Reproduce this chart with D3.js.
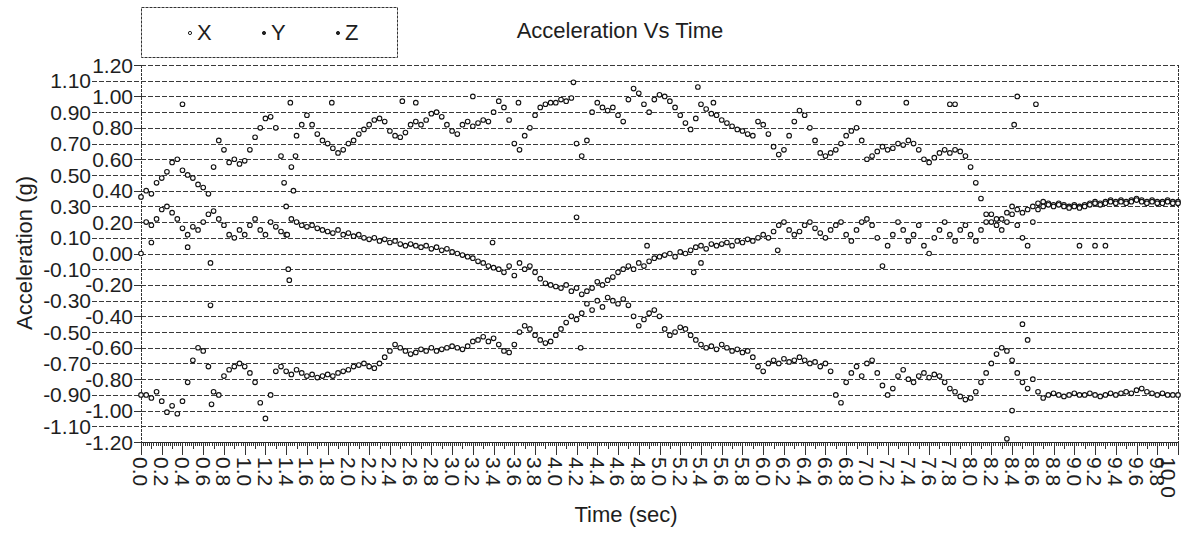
<!DOCTYPE html>
<html>
<head>
<meta charset="utf-8">
<script src="https://cdn.jsdelivr.net/npm/d3@7"></script>
<style>
  body { margin: 0; background: #fff; }
  text { font-family: "Liberation Sans", Arial, sans-serif; fill: #1e1e1e; }
</style>
</head>
<body>
<script>
// samples every 0.05 s, 0.0 .. 10.0
const sampleStep = 0.05;

const xSeries = [
  0.36,0.40,0.38,0.45,0.48,0.52,0.58,0.60,0.53,0.50,0.48,0.44,0.42,0.38,0.55,0.72,0.66,0.58,0.60,0.57,
  0.59,0.66,0.74,0.80,0.86,0.87,0.80,0.62,0.30,0.55,0.75,0.82,0.88,0.82,0.76,0.72,0.70,0.67,0.64,0.66,
  0.70,0.72,0.76,0.79,0.82,0.85,0.86,0.84,0.78,0.75,0.74,0.77,0.82,0.84,0.82,0.85,0.89,0.90,0.87,0.82,
  0.78,0.76,0.82,0.84,0.81,0.83,0.85,0.84,0.90,0.97,0.93,0.85,0.70,0.66,0.75,0.80,0.88,0.93,0.95,0.96,
  0.96,0.98,0.97,0.99,0.70,0.62,0.72,0.90,0.96,0.93,0.91,0.93,0.88,0.84,0.98,1.05,1.02,0.95,0.90,0.98,
  1.01,1.00,0.97,0.93,0.88,0.83,0.79,0.86,0.95,0.92,0.89,0.88,0.85,0.83,0.81,0.79,0.78,0.76,0.75,0.84,
  0.82,0.76,0.68,0.63,0.66,0.75,0.84,0.91,0.88,0.80,0.72,0.64,0.62,0.64,0.66,0.70,0.75,0.78,0.80,0.72,
  0.60,0.62,0.65,0.68,0.66,0.67,0.70,0.69,0.72,0.70,0.66,0.60,0.58,0.61,0.64,0.66,0.64,0.66,0.65,0.62,
  0.55,0.45,0.35,0.25,0.20,0.18,0.22,0.26,0.30,0.28,0.26,0.28,0.30,0.32,0.33,0.32,0.31,0.32,0.31,0.30,
  0.31,0.30,0.31,0.32,0.33,0.32,0.33,0.34,0.33,0.34,0.33,0.34,0.35,0.34,0.33,0.34,0.33,0.33,0.34,0.33,
  0.33
];

const ySeries = [
  0.00,0.20,0.18,0.22,0.28,0.30,0.26,0.22,0.16,0.12,0.17,0.15,0.20,0.25,0.27,0.22,0.18,0.12,0.10,0.15,
  0.12,0.18,0.22,0.15,0.12,0.20,0.17,0.14,0.12,0.22,0.20,0.18,0.17,0.18,0.16,0.15,0.14,0.13,0.15,0.12,
  0.13,0.11,0.12,0.10,0.09,0.10,0.08,0.09,0.07,0.08,0.06,0.05,0.06,0.05,0.04,0.05,0.03,0.04,0.02,0.03,
  0.01,0.00,-0.01,-0.02,-0.03,-0.05,-0.06,-0.08,-0.09,-0.10,-0.12,-0.08,-0.14,-0.06,-0.10,-0.08,-0.12,-0.16,-0.19,-0.20,
  -0.21,-0.22,-0.20,-0.24,-0.22,-0.26,-0.24,-0.22,-0.18,-0.20,-0.17,-0.15,-0.12,-0.10,-0.08,-0.10,-0.06,-0.08,-0.05,-0.03,
  -0.02,-0.01,0.00,-0.02,0.01,0.00,0.02,0.04,0.05,0.03,0.06,0.05,0.06,0.07,0.05,0.08,0.07,0.09,0.08,0.10,
  0.12,0.10,0.14,0.18,0.20,0.15,0.12,0.14,0.18,0.20,0.16,0.13,0.10,0.15,0.18,0.20,0.12,0.08,0.15,0.20,
  0.22,0.18,0.10,-0.08,0.05,0.12,0.20,0.15,0.08,0.12,0.18,0.05,0.00,0.10,0.15,0.20,0.12,0.08,0.15,0.18,
  0.12,0.08,0.15,0.20,0.25,0.22,0.15,0.20,0.25,0.18,0.10,0.05,0.20,0.28,0.30,0.31,0.30,0.31,0.30,0.29,
  0.30,0.29,0.30,0.31,0.32,0.31,0.32,0.33,0.32,0.33,0.32,0.33,0.34,0.33,0.32,0.33,0.32,0.32,0.33,0.32,
  0.32
];

const zSeries = [
  -0.90,-0.90,-0.92,-0.88,-0.94,-1.01,-0.97,-1.02,-0.94,-0.82,-0.68,-0.60,-0.62,-0.72,-0.88,-0.90,-0.78,-0.74,-0.72,-0.70,
  -0.72,-0.76,-0.82,-0.95,-1.05,-0.90,-0.75,-0.72,-0.75,-0.77,-0.74,-0.76,-0.78,-0.77,-0.79,-0.78,-0.77,-0.78,-0.76,-0.75,
  -0.74,-0.72,-0.71,-0.70,-0.72,-0.73,-0.70,-0.66,-0.62,-0.58,-0.60,-0.62,-0.64,-0.63,-0.61,-0.62,-0.60,-0.62,-0.61,-0.60,
  -0.59,-0.60,-0.61,-0.59,-0.56,-0.55,-0.53,-0.56,-0.54,-0.58,-0.62,-0.63,-0.58,-0.50,-0.46,-0.48,-0.52,-0.55,-0.57,-0.56,
  -0.52,-0.48,-0.44,-0.40,-0.42,-0.38,-0.32,-0.36,-0.30,-0.34,-0.28,-0.30,-0.32,-0.29,-0.33,-0.40,-0.46,-0.42,-0.38,-0.36,
  -0.40,-0.48,-0.52,-0.50,-0.47,-0.48,-0.52,-0.55,-0.58,-0.60,-0.59,-0.61,-0.58,-0.60,-0.62,-0.61,-0.63,-0.62,-0.66,-0.72,
  -0.75,-0.70,-0.68,-0.70,-0.67,-0.69,-0.68,-0.66,-0.68,-0.70,-0.69,-0.72,-0.70,-0.75,-0.90,-0.95,-0.82,-0.76,-0.72,-0.78,
  -0.70,-0.68,-0.76,-0.84,-0.90,-0.86,-0.78,-0.74,-0.80,-0.82,-0.78,-0.76,-0.79,-0.77,-0.78,-0.82,-0.86,-0.88,-0.91,-0.93,
  -0.92,-0.88,-0.82,-0.76,-0.70,-0.64,-0.60,-0.62,-0.68,-0.76,-0.82,-0.86,-0.80,-0.88,-0.92,-0.90,-0.89,-0.90,-0.91,-0.90,
  -0.89,-0.90,-0.90,-0.89,-0.90,-0.91,-0.90,-0.89,-0.90,-0.89,-0.88,-0.89,-0.87,-0.86,-0.88,-0.89,-0.90,-0.89,-0.90,-0.90,
  -0.90
];

// isolated samples off the main traces: [time, value]
const strayPoints = [
  [0.40,0.95],[1.38,0.45],[1.41,0.12],[1.42,-0.10],[1.43,-0.17],[1.47,0.40],[1.49,0.62],
  [1.44,0.96],[1.84,0.96],[2.52,0.97],[2.65,0.96],[3.20,1.00],[3.64,0.96],[4.17,1.09],
  [5.37,1.06],[5.52,0.96],[6.92,0.96],[7.38,0.96],[7.80,0.95],[7.85,0.95],[8.45,1.00],
  [8.63,0.95],[8.42,0.82],
  [0.10,0.07],[0.45,0.04],[0.67,-0.06],[0.67,-0.33],[3.39,0.07],[4.20,0.23],[4.88,0.05],
  [5.33,-0.12],[5.40,-0.06],[6.14,0.02],[9.05,0.05],[9.20,0.05],[9.30,0.05],
  [0.68,-0.96],[4.24,-0.60],[8.35,-1.18],[8.40,-1.00],[8.50,-0.45],[8.55,-0.55]
];

const yTickLabels = ["1.20","1.10","1.00","0.90","0.80","0.70","0.60","0.50","0.40","0.30","0.20","0.10","0.00",
  "-0.10","-0.20","-0.30","-0.40","-0.50","-0.60","-0.70","-0.80","-0.90","-1.00","-1.10","-1.20"];

const xTickLabels = ["0.0","0.2","0.4","0.6","0.8","1.0","1.2","1.4","1.6","1.8","2.0","2.2","2.4","2.6","2.8",
  "3.0","3.2","3.4","3.6","3.8","4.0","4.2","4.4","4.6","4.8","5.0","5.2","5.4","5.6","5.8",
  "6.0","6.2","6.4","6.6","6.8","7.0","7.2","7.4","7.6","7.8","8.0","8.2","8.4","8.6","8.8",
  "9.0","9.2","9.4","9.6","9.8","10.0"];

const legendNames = ["X", "Y", "Z"];

const width = 1182, height = 535;
const plotLeft = 141, plotRight = 1178, plotTop = 65, plotBottom = 442;

let svg = d3.select("body").append("svg")
    .attr("width", width)
    .attr("height", height);

let xScale = d3.scaleLinear().domain([0, 10]).range([plotLeft, plotRight]);
let yScale = d3.scaleLinear().domain([-1.2, 1.2]).range([plotBottom, plotTop]);

function drawGrid(svg)
{
    let g = svg.append("g");
    g.selectAll("line.grid")
        .data(yTickLabels)
        .enter().append("line")
        .attr("class", "grid")
        .attr("x1", (d, i) => i % 2 ? 92 : plotLeft)
        .attr("x2", plotRight)
        .attr("y1", d => Math.round(yScale(+d)) + 0.5)
        .attr("y2", d => Math.round(yScale(+d)) + 0.5)
        .attr("stroke", (d, i) => i === 24 ? "#222" : "#3a3a3a")
        .attr("stroke-dasharray", (d, i) => i === 24 ? null : "5,2");

    // even-tick stubs
    g.selectAll("line.stub")
        .data(yTickLabels.filter((d, i) => i % 2 === 0))
        .enter().append("line")
        .attr("class", "stub")
        .attr("x1", 134).attr("x2", plotLeft)
        .attr("y1", d => Math.round(yScale(+d)) + 0.5)
        .attr("y2", d => Math.round(yScale(+d)) + 0.5)
        .attr("stroke", "#333");

    // frame sides
    [plotLeft, plotRight].forEach(x => {
        g.append("line")
            .attr("x1", x + 0.5).attr("x2", x + 0.5)
            .attr("y1", plotTop).attr("y2", plotBottom)
            .attr("stroke", "#333")
            .attr("stroke-dasharray", "3,1");
    });

    g.selectAll("text")
        .data(yTickLabels)
        .enter().append("text")
        .attr("x", (d, i) => i % 2 ? 91 : 133)
        .attr("y", d => yScale(+d))
        .attr("dy", "0.36em")
        .attr("text-anchor", "end")
        .style("font-size", "21px")
        .text(d => d);
}

function drawXAxis(svg)
{
    let g = svg.append("g");
    let minor = d3.range(0, 501).map(i => i / 50);
    g.selectAll("line")
        .data(minor)
        .enter().append("line")
        .attr("x1", d => Math.round(xScale(d)) + 0.5)
        .attr("x2", d => Math.round(xScale(d)) + 0.5)
        .attr("y1", plotBottom)
        .attr("y2", (d, i) => i % 10 === 0 ? plotBottom + 13 : (i % 5 === 0 ? plotBottom + 7 : plotBottom + 4))
        .attr("stroke", "#333");

    g.selectAll("text")
        .data(xTickLabels)
        .enter().append("text")
        .attr("transform", d => `translate(${Math.min(xScale(+d), width - 13)},${plotBottom + 15}) rotate(90)`)
        .attr("dy", "0.36em")
        .style("font-size", "21px")
        .text(d => d);

    svg.append("text")
        .attr("x", 626).attr("y", 522)
        .attr("text-anchor", "middle")
        .style("font-size", "22px")
        .text("Time (sec)");

    svg.append("text")
        .attr("transform", "translate(32,253) rotate(-90)")
        .attr("text-anchor", "middle")
        .style("font-size", "22px")
        .text("Acceleration (g)");
}

function drawSeries(svg, values)
{
    svg.append("g")
        .selectAll("circle")
        .data(values)
        .enter().append("circle")
        .attr("cx", (d, i) => xScale(i * sampleStep))
        .attr("cy", d => yScale(d))
        .attr("r", 2.3)
        .attr("fill", "white")
        .attr("stroke", "#111")
        .attr("stroke-width", 1.1);
}

function drawStrays(svg)
{
    svg.append("g")
        .selectAll("circle")
        .data(strayPoints)
        .enter().append("circle")
        .attr("cx", d => xScale(d[0]))
        .attr("cy", d => yScale(d[1]))
        .attr("r", 2.3)
        .attr("fill", "white")
        .attr("stroke", "#111")
        .attr("stroke-width", 1.1);
}

function drawLegend(svg)
{
    let g = svg.append("g");
    g.append("rect")
        .attr("x", 141.5).attr("y", 7.5)
        .attr("width", 256).attr("height", 50)
        .attr("fill", "none")
        .attr("stroke", "#333")
        .attr("stroke-dasharray", "3,1");
    let item = g.selectAll("g")
        .data(legendNames)
        .enter().append("g")
        .attr("transform", (d, i) => `translate(${190 + i * 74},0)`);
    item.append("circle")
        .attr("cx", 0).attr("cy", 33)
        .attr("r", 1.6)
        .attr("fill", (d, i) => i ? "#222" : "white")
        .attr("stroke", "#222");
    item.append("text")
        .attr("x", 7).attr("y", 40)
        .style("font-size", "22px")
        .text(d => d);

    svg.append("text")
        .attr("x", 620).attr("y", 38)
        .attr("text-anchor", "middle")
        .style("font-size", "22px")
        .text("Acceleration Vs Time");
}

drawGrid(svg);
drawXAxis(svg);
drawSeries(svg, xSeries);
drawSeries(svg, ySeries);
drawSeries(svg, zSeries);
drawStrays(svg);
drawLegend(svg);
</script>
</body>
</html>
